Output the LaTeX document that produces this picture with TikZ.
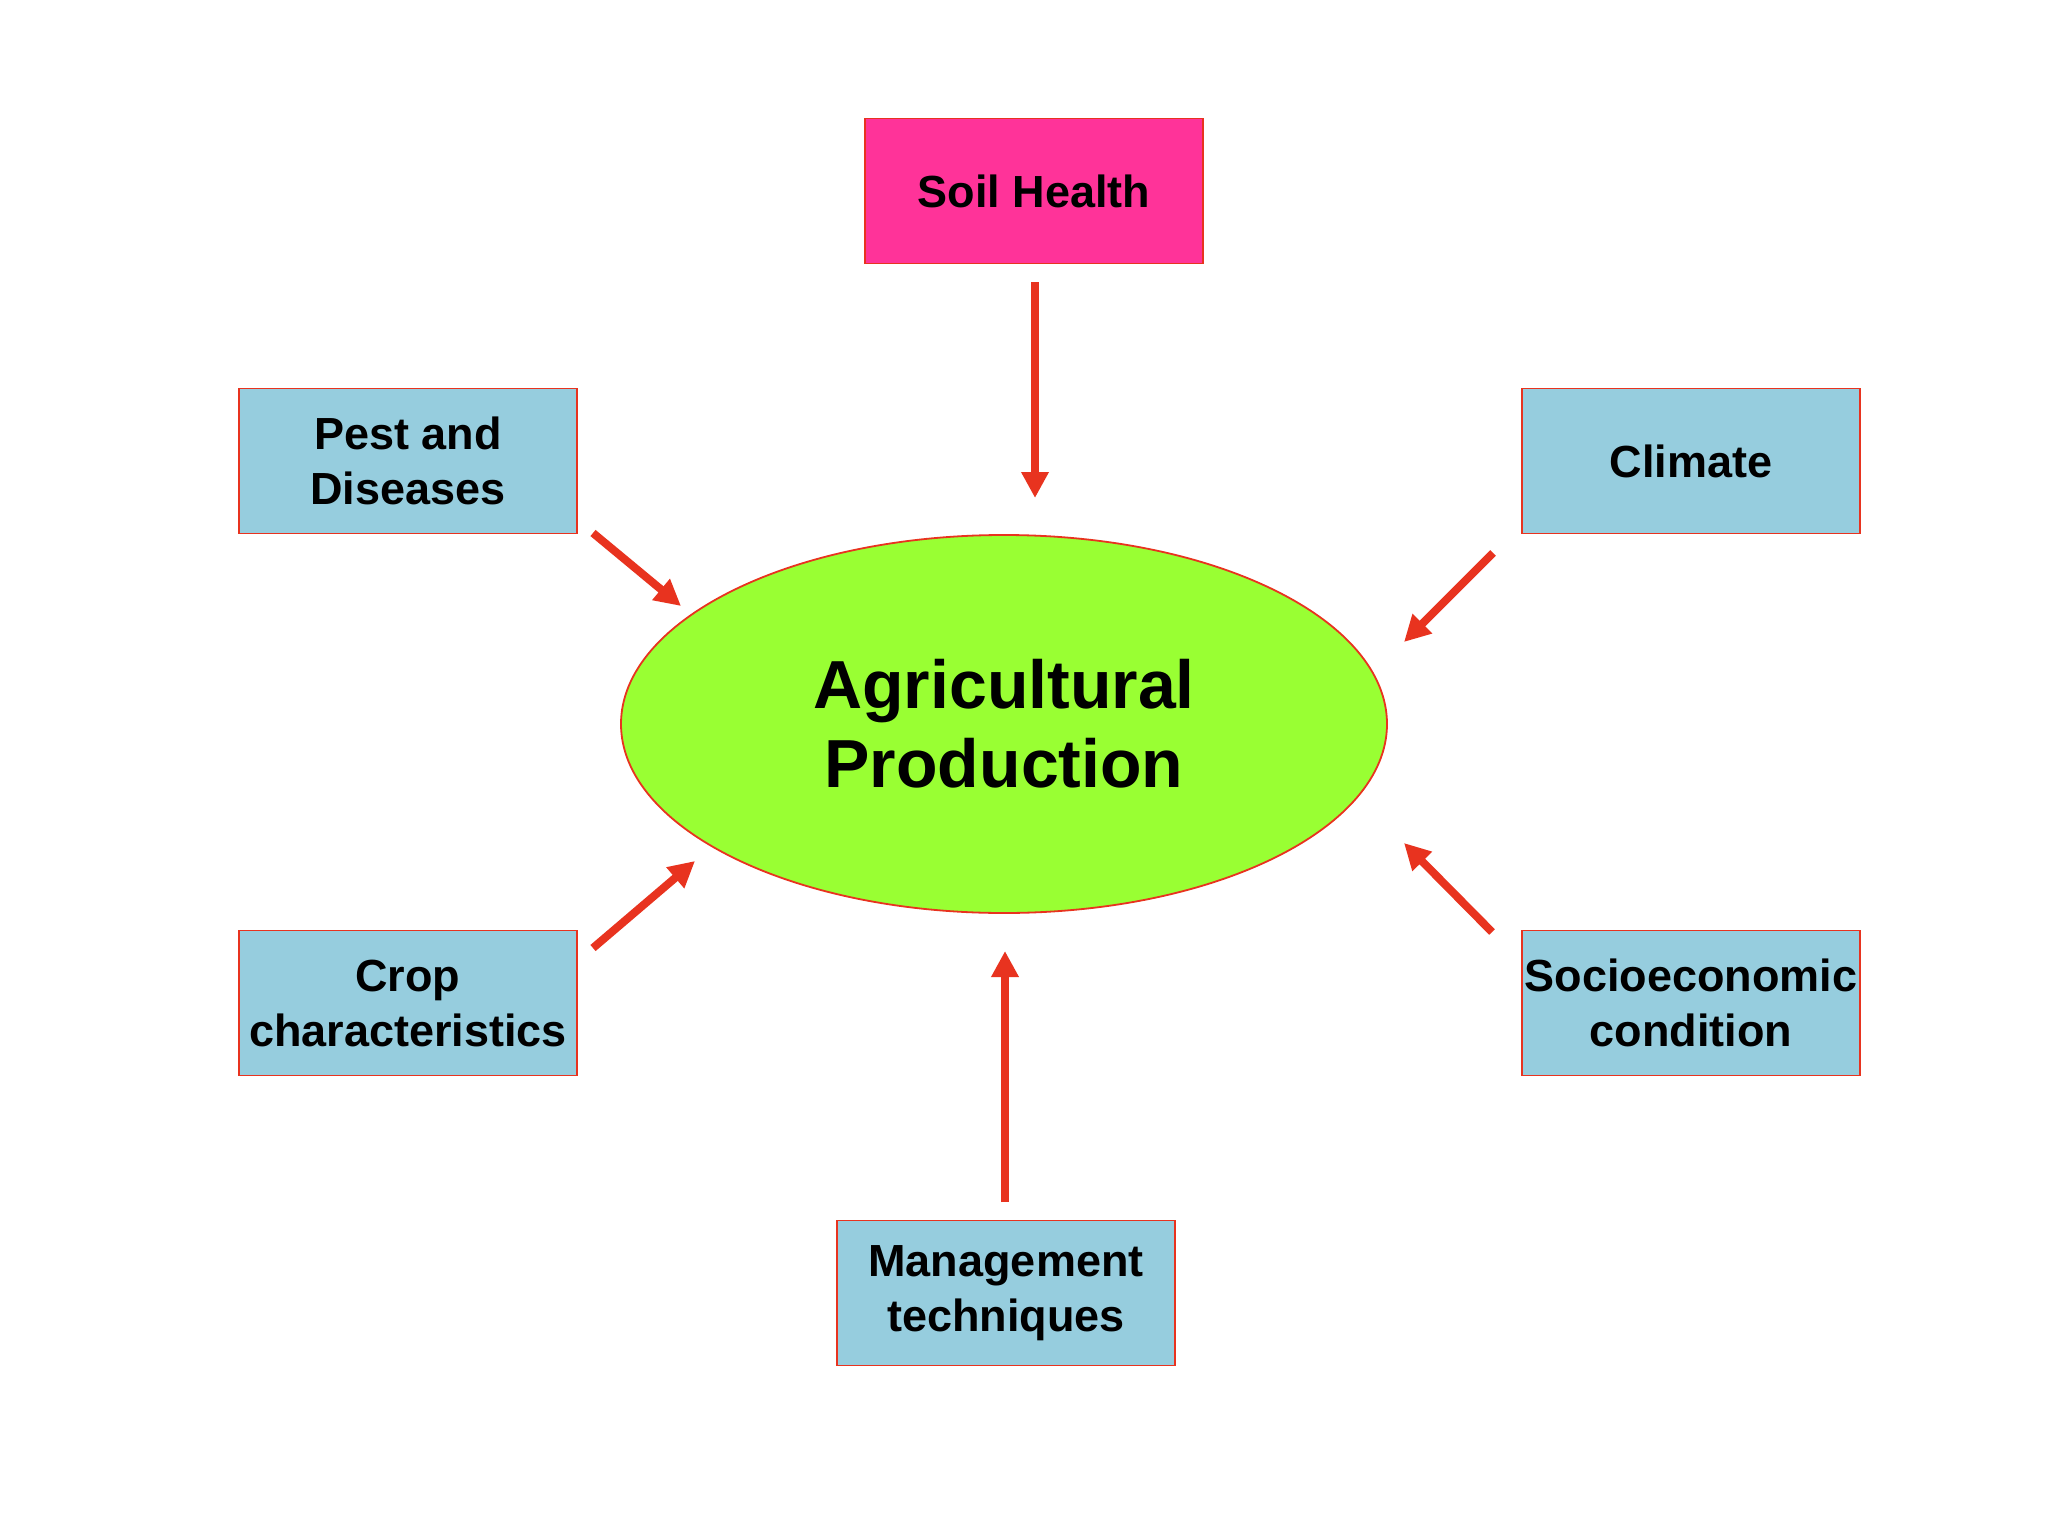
\documentclass[tikz,border=0pt]{standalone}
\usepackage{fontspec}
\setmainfont{Liberation Sans}
\usetikzlibrary{shapes.geometric,arrows.meta}
\definecolor{pinkbox}{HTML}{FF3399}
\definecolor{bluebox}{HTML}{96CDDE}
\definecolor{greenell}{HTML}{99FF33}
\definecolor{redline}{HTML}{E8331F}
\tikzset{
  factor/.style={draw=redline, line width=1.5pt, fill=bluebox, minimum width=338pt, minimum height=145pt, inner sep=0pt, align=center, font=\bfseries\fontsize{45}{55}\selectfont},
  central/.style={ellipse, draw=redline, line width=1.8pt, fill=greenell, minimum width=766pt, minimum height=378pt, inner sep=0pt, align=center, font=\bfseries\fontsize{68}{79}\selectfont},
  influence/.style={draw=redline, line width=8pt, -{Triangle[length=26pt,width=26pt]}}
}
\begin{document}
\begin{tikzpicture}[x=1pt,y=-1pt]
\useasboundingbox (0,0) rectangle (2048,1536);
\fill[white] (0,0) rectangle (2048,1536);
\node[central] (ap) at (1004,724) {Agricultural\\Production};
\node[factor, fill=pinkbox] (soil) at (1034,191) {Soil Health};
\node[factor] (pest) at (408,461) {Pest and\\Diseases};
\node[factor] (clim) at (1691,461) {Climate};
\node[factor] (crop) at (408,1003) {Crop\\characteristics};
\node[factor] (socio) at (1691,1003) {Socioeconomic\\condition};
\node[factor] (mgmt) at (1006,1293) {Management\\techniques};
\coordinate (s1) at (1035,282); \coordinate (s2) at (1035,498);
\coordinate (p1) at (593,533); \coordinate (p2) at (681,606);
\coordinate (c1) at (1493,553); \coordinate (c2) at (1404,642);
\coordinate (r1) at (593,948); \coordinate (r2) at (695,861);
\coordinate (e1) at (1492,932); \coordinate (e2) at (1404,843);
\coordinate (m1) at (1005,1202); \coordinate (m2) at (1005,951);
\draw[influence] (s1) -- (s2);
\draw[influence] (p1) -- (p2);
\draw[influence] (c1) -- (c2);
\draw[influence] (r1) -- (r2);
\draw[influence] (e1) -- (e2);
\draw[influence] (m1) -- (m2);
\end{tikzpicture}
\end{document}
